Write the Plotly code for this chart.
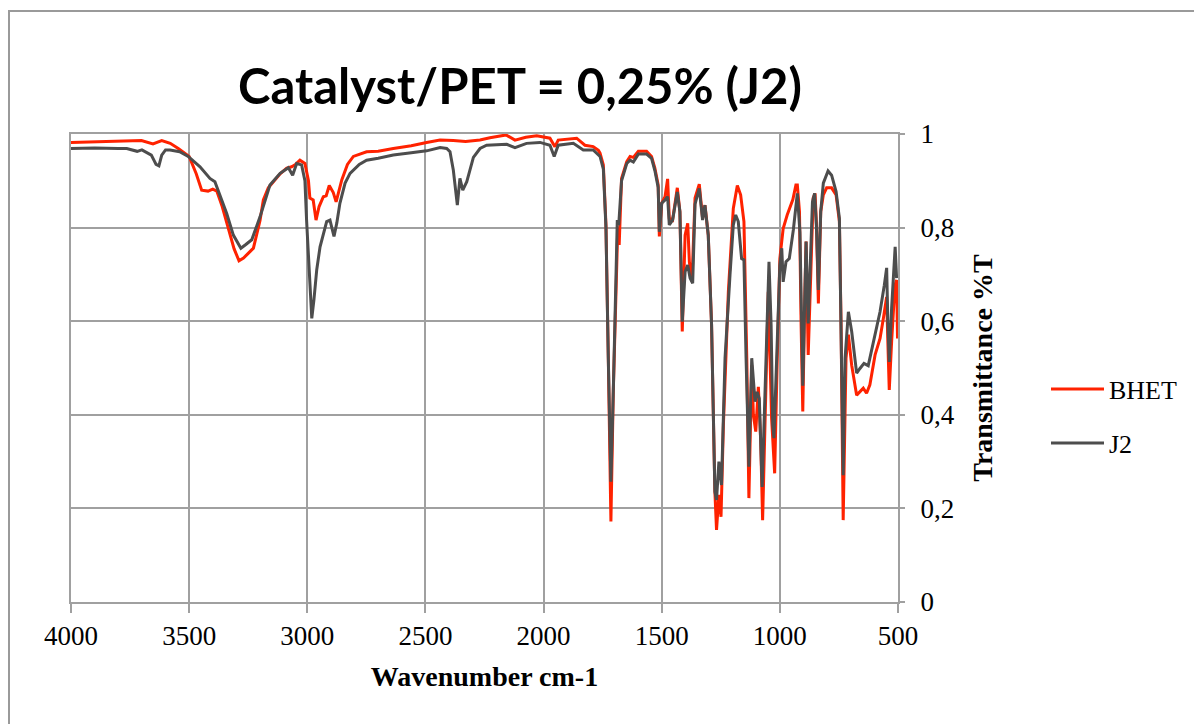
import plotly.graph_objects as go

# ---------------- data ----------------
wn_bhet = [4000, 3900, 3800, 3702, 3653, 3616, 3580, 3546, 3500, 3470, 3447, 3420, 3400, 3383, 3360,
           3334, 3310, 3289, 3270, 3250, 3228, 3200, 3186, 3165, 3144, 3115, 3087, 3066, 3050, 3031,
           3010, 2995, 2989, 2975, 2963, 2950, 2932, 2920, 2907, 2890, 2878, 2865, 2854, 2830, 2805,
           2749, 2700, 2636, 2560, 2495, 2438, 2382, 2330, 2269, 2227, 2159, 2121, 2075, 2029, 1973,
           1952, 1938, 1890, 1860, 1825, 1790, 1768, 1761, 1747, 1736, 1726, 1715, 1705, 1693, 1686,
           1680, 1670, 1648, 1634, 1620, 1599, 1564, 1543, 1529, 1515, 1510, 1500, 1486, 1475, 1468,
           1454, 1434, 1423, 1413, 1401, 1390, 1383, 1372, 1359, 1341, 1327, 1317, 1303, 1289, 1275,
           1268, 1258, 1249, 1239, 1218, 1197, 1180, 1166, 1152, 1140, 1131, 1119, 1112, 1102, 1091,
           1081, 1073, 1063, 1049, 1035, 1022, 1011, 1000, 986, 969, 945, 932, 926, 917, 910,
           903, 894, 889, 880, 870, 859, 851, 845, 837, 827, 816, 802, 781, 762, 748,
           741, 732, 720, 710, 696, 675, 661, 647, 633, 619, 597, 576, 562, 548, 543,
           537, 527, 513, 506, 502]
t_bhet = [0.982, 0.983, 0.984, 0.986, 0.979, 0.986, 0.980, 0.969, 0.952, 0.915, 0.880, 0.878, 0.882, 0.878, 0.845,
          0.798, 0.755, 0.729, 0.735, 0.745, 0.756, 0.815, 0.859, 0.885, 0.898, 0.915, 0.927, 0.930, 0.935, 0.944,
          0.937, 0.900, 0.863, 0.859, 0.816, 0.845, 0.866, 0.868, 0.890, 0.875, 0.855, 0.880, 0.902, 0.935, 0.952,
          0.962, 0.963, 0.969, 0.975, 0.982, 0.987, 0.986, 0.984, 0.987, 0.992, 0.998, 0.987, 0.993, 0.996, 0.991,
          0.973, 0.987, 0.990, 0.991, 0.976, 0.973, 0.965, 0.959, 0.934, 0.806, 0.521, 0.172, 0.449, 0.699, 0.800,
          0.763, 0.905, 0.941, 0.952, 0.950, 0.963, 0.963, 0.952, 0.927, 0.891, 0.781, 0.852, 0.866, 0.904, 0.820,
          0.816, 0.885, 0.834, 0.578, 0.784, 0.809, 0.727, 0.685, 0.863, 0.893, 0.820, 0.848, 0.784, 0.592, 0.236,
          0.154, 0.229, 0.182, 0.378, 0.663, 0.841, 0.890, 0.870, 0.813, 0.521, 0.222, 0.506, 0.400, 0.364, 0.460,
          0.343, 0.175, 0.378, 0.663, 0.393, 0.275, 0.521, 0.734, 0.798, 0.827, 0.860, 0.891, 0.891, 0.834, 0.592,
          0.407, 0.663, 0.770, 0.528, 0.699, 0.863, 0.873, 0.806, 0.638, 0.834, 0.870, 0.885, 0.885, 0.870, 0.813,
          0.592, 0.175, 0.521, 0.571, 0.506, 0.442, 0.449, 0.457, 0.446, 0.464, 0.528, 0.563, 0.606, 0.652, 0.556,
          0.453, 0.556, 0.677, 0.688, 0.563]

wn_j2 = [4000, 3900, 3800, 3764, 3720, 3700, 3660, 3640, 3628, 3616, 3600, 3581, 3540, 3504, 3454,
         3412, 3391, 3370, 3341, 3313, 3281, 3260, 3235, 3200, 3158, 3115, 3080, 3062, 3045, 3024,
         3010, 3003, 2990, 2981, 2972, 2960, 2946, 2918, 2904, 2887, 2875, 2862, 2840, 2819, 2780,
         2749, 2700, 2636, 2560, 2495, 2438, 2410, 2396, 2382, 2365, 2354, 2342, 2325, 2297, 2269,
         2241, 2156, 2121, 2072, 2015, 1973, 1955, 1938, 1874, 1832, 1790, 1761, 1747, 1736, 1726,
         1715, 1705, 1693, 1688, 1682, 1670, 1648, 1634, 1620, 1599, 1564, 1543, 1529, 1515, 1510,
         1500, 1486, 1475, 1468, 1454, 1434, 1423, 1413, 1401, 1390, 1380, 1369, 1359, 1341, 1327,
         1317, 1303, 1289, 1275, 1268, 1258, 1247, 1232, 1211, 1197, 1187, 1176, 1162, 1152, 1143,
         1131, 1119, 1110, 1105, 1096, 1087, 1075, 1058, 1046, 1037, 1030, 1025, 1013, 1000, 992,
         986, 974, 960, 943, 926, 915, 903, 894, 889, 880, 870, 862, 853, 845, 837,
         827, 816, 796, 781, 762, 748, 741, 732, 724, 710, 696, 675, 661, 644, 626,
         605, 576, 558, 548, 543, 537, 527, 518, 512, 506]
t_j2 = [0.969, 0.970, 0.969, 0.969, 0.963, 0.966, 0.955, 0.935, 0.932, 0.955, 0.966, 0.966, 0.962, 0.952, 0.930,
        0.905, 0.898, 0.870, 0.830, 0.784, 0.756, 0.764, 0.774, 0.823, 0.891, 0.916, 0.928, 0.912, 0.937, 0.934,
        0.900, 0.816, 0.700, 0.606, 0.645, 0.710, 0.759, 0.813, 0.816, 0.781, 0.810, 0.852, 0.895, 0.916, 0.935,
        0.944, 0.948, 0.955, 0.960, 0.964, 0.971, 0.969, 0.962, 0.923, 0.848, 0.905, 0.880, 0.898, 0.950, 0.969,
        0.976, 0.978, 0.971, 0.980, 0.982, 0.976, 0.952, 0.976, 0.980, 0.966, 0.966, 0.952, 0.925, 0.800, 0.520,
        0.257, 0.449, 0.699, 0.816, 0.805, 0.900, 0.937, 0.944, 0.940, 0.957, 0.957, 0.948, 0.922, 0.886, 0.791,
        0.852, 0.859, 0.866, 0.806, 0.816, 0.876, 0.834, 0.599, 0.706, 0.720, 0.692, 0.681, 0.850, 0.884, 0.816,
        0.848, 0.784, 0.592, 0.236, 0.218, 0.300, 0.250, 0.521, 0.699, 0.806, 0.827, 0.813, 0.734, 0.731, 0.521,
        0.289, 0.521, 0.471, 0.428, 0.449, 0.435, 0.246, 0.521, 0.727, 0.592, 0.378, 0.350, 0.521, 0.720, 0.756,
        0.684, 0.727, 0.734, 0.795, 0.873, 0.790, 0.462, 0.663, 0.770, 0.595, 0.734, 0.855, 0.873, 0.800, 0.667,
        0.834, 0.895, 0.921, 0.912, 0.877, 0.820, 0.592, 0.271, 0.521, 0.620, 0.578, 0.489, 0.499, 0.510, 0.505,
        0.556, 0.620, 0.677, 0.714, 0.600, 0.513, 0.628, 0.720, 0.759, 0.692]

x_ticks = [4000, 3500, 3000, 2500, 2000, 1500, 1000, 500]
y_ticks = [0, 0.2, 0.4, 0.6, 0.8, 1]
y_tick_labels = ["0", "0,2", "0,4", "0,6", "0,8", "1"]

title_text = "Catalyst/PET = 0,25% (J2)"
x_title = "Wavenumber cm-1"
y_title = "Transmittance %T"

# ---------------- figure ----------------
SERIF = "Liberation Serif"
GRID = "#A0A0A0"
# the page body adds an 8px offset; plot area on screen is x 71..898, y 134..602
OFF = 8

fig = go.Figure()
fig.add_trace(go.Scatter(x=wn_bhet, y=t_bhet, mode="lines", name="BHET",
                         line=dict(color="#FF2200", width=3), legend="legend"))
fig.add_trace(go.Scatter(x=wn_j2, y=t_j2, mode="lines", name="J2",
                         line=dict(color="#4D4D4D", width=3), legend="legend2"))

leg_common = dict(xanchor="left", yanchor="middle",
                  font=dict(family=SERIF, size=26, color="black"), bgcolor="rgba(0,0,0,0)",
                  itemwidth=53)

fig.update_layout(
    width=1202, height=724, autosize=False,
    margin=dict(l=71 - OFF, r=1202 - (898 - OFF), t=134 - OFF, b=724 - (602 - OFF)),
    paper_bgcolor="white", plot_bgcolor="white",
    showlegend=True,
    title=dict(text=title_text, x=(520 - OFF) / 1202, xref="container", xanchor="center",
               y=1 - (87 - OFF) / 724, yref="container", yanchor="middle",
               font=dict(family="Lato", size=49, color="black", weight="bold")),
    xaxis=dict(range=[4000, 500], tickvals=x_ticks, ticks="outside", ticklen=9, tickwidth=2,
               tickcolor=GRID, showgrid=True, gridcolor=GRID, gridwidth=2,
               showline=True, linecolor=GRID, linewidth=2, mirror=True, zeroline=False,
               tickfont=dict(family=SERIF, size=27, color="black"), ticklabelstandoff=0,
               title=dict(text=x_title, standoff=16,
                          font=dict(family=SERIF, size=28, color="black", weight="bold"))),
    yaxis=dict(range=[0, 1], side="right", tickvals=y_ticks, ticktext=y_tick_labels,
               ticks="outside", ticklen=5, tickwidth=2, tickcolor=GRID,
               showgrid=True, gridcolor=GRID, gridwidth=2,
               showline=True, linecolor=GRID, linewidth=2, mirror=True, zeroline=False,
               tickfont=dict(family=SERIF, size=27, color="black"), ticklabelstandoff=10,
               title=dict(text=y_title, standoff=19,
                          font=dict(family=SERIF, size=28, color="black", weight="bold"))),
    legend=dict(x=(1046 - 71) / 827, y=(602 - 389) / 468, **leg_common),
    legend2=dict(x=(1046 - 71) / 827, y=(602 - 443) / 468, **leg_common),
    shapes=[dict(type="rect", xref="paper", yref="paper",
                 x0=(9 - 71) / 827, x1=(1215 - 71) / 827,
                 y0=(602 - 740) / 468, y1=(602 - 11) / 468,
                 line=dict(color="#9A9A9A", width=2), fillcolor="rgba(0,0,0,0)", layer="below")],
)

fig.write_html("out.html")
